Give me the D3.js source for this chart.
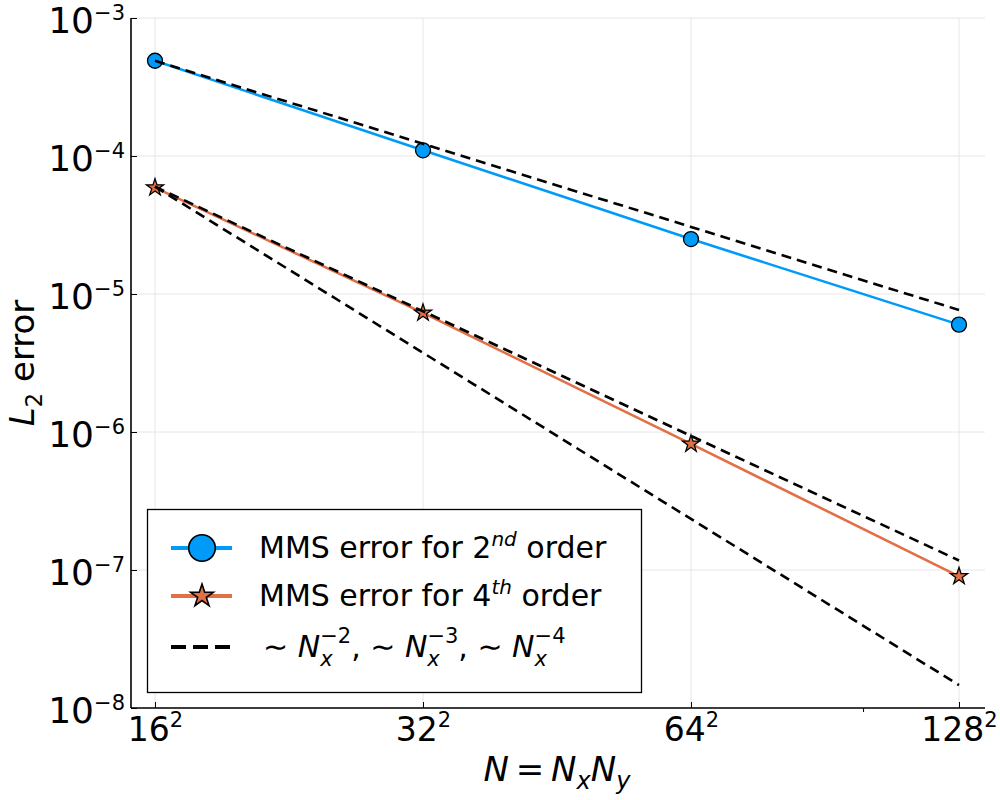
<!DOCTYPE html>
<html><head><meta charset="utf-8">
<script src="https://cdn.jsdelivr.net/npm/d3@7"></script>
<style>
body{margin:0;background:#fff}
text{font-family:"DejaVu Sans",sans-serif;fill:#000}
</style>
</head><body>
<svg id="c" width="1000" height="800"></svg>
<script>
// ---- data ----
const nxLabels = ["16","32","64","128"];
const nValues = [256, 1024, 4096, 16384];           // N = Nx*Ny
const err2nd = [4.9e-4, 1.1e-4, 2.5e-5, 6.0e-6];
const err4th = [5.9e-5, 7.3e-6, 8.2e-7, 9.0e-8];
const ref2 = [4.9e-4, 1.225e-4, 3.0625e-5, 7.65625e-6];
const ref3 = [6.0e-5, 7.5e-6, 9.375e-7, 1.171875e-7];
const ref4 = [6.0e-5, 3.75e-6, 2.34375e-7, 1.46484375e-8];
const yTicks = [1e-8, 1e-7, 1e-6, 1e-5, 1e-4, 1e-3];
const yTickExps = ["−8", "−7", "−6", "−5", "−4", "−3"];
const refExps = ["−2", "−3", "−4"];
const minorXTicks = [10000];

const blue = "#009AF9", orange = "#E26F46";
const plotL = 131, plotR = 985, plotT = 18, plotB = 708;

const svg = d3.select("#c");
const x = d3.scaleLog().domain([256, 16384]).range([155, 959]);
const y = d3.scaleLog().domain([1e-8, 1e-3]).range([708, 18]);

// grid
const grid = svg.append("g").attr("stroke", "#e6e6e6").attr("stroke-width", 1);
grid.selectAll("line.gx").data(nValues).join("line").attr("class","gx")
  .attr("x1", d => x(d)).attr("x2", d => x(d)).attr("y1", plotT).attr("y2", plotB);
grid.selectAll("line.gy").data(yTicks).join("line").attr("class","gy")
  .attr("x1", plotL).attr("x2", plotR).attr("y1", d => y(d)).attr("y2", d => y(d));

// x axis
const gx = svg.append("g").attr("transform", `translate(0,${plotB})`)
  .call(d3.axisBottom(x).tickValues(nValues).tickSizeInner(-6).tickSizeOuter(0).tickFormat((d,i)=>nxLabels[i]));
gx.attr("font-family", null).attr("font-size", null);
gx.select(".domain").remove();
gx.selectAll(".tick line").attr("stroke", "#000").attr("stroke-width", 1);
gx.selectAll(".tick text").attr("y", 33).attr("dy", 0).attr("font-size", 33)
  .attr("text-anchor", "middle")
  .each(function(d, i) {
    const t = d3.select(this); t.text(null);
    t.append("tspan").text(nxLabels[i]);
    t.append("tspan").attr("font-size", 21).attr("dy", -14).text("2");
  });
svg.append("g").selectAll("line").data(minorXTicks).join("line")
  .attr("x1", d => x(d)).attr("x2", d => x(d)).attr("y1", plotB).attr("y2", plotB + 4)
  .attr("stroke", "#000").attr("stroke-width", 1);

// y axis
const gy = svg.append("g").attr("transform", `translate(${plotL},0)`)
  .call(d3.axisLeft(y).tickValues(yTicks).tickSizeInner(-6).tickSizeOuter(0).tickFormat(() => "10"));
gy.attr("font-family", null).attr("font-size", null);
gy.select(".domain").remove();
gy.selectAll(".tick line").attr("stroke", "#000").attr("stroke-width", 1);
gy.selectAll(".tick text").attr("x", -6).attr("y", 14).attr("dy", 0).attr("font-size", 36)
  .attr("text-anchor", "end")
  .each(function(d, i) {
    const t = d3.select(this); t.text(null);
    t.append("tspan").text("10");
    t.append("tspan").attr("font-size", 21).attr("dy", -13).text(yTickExps[i]);
  });

// axis lines
svg.append("line").attr("x1", plotL).attr("x2", plotR).attr("y1", plotB).attr("y2", plotB)
  .attr("stroke", "#000").attr("stroke-width", 1.6);
svg.append("line").attr("x1", plotL).attr("x2", plotL).attr("y1", plotT).attr("y2", plotB)
  .attr("stroke", "#000").attr("stroke-width", 1.6);

// series
const line = d3.line().x((d, i) => x(nValues[i])).y(d => y(d));
const star = (r) => d3.symbol(d3.symbolStar, r * r / 0.8908130915292852)();

svg.append("path").datum(err2nd).attr("d", line).attr("fill", "none")
  .attr("stroke", blue).attr("stroke-width", 2.6);
svg.append("g").selectAll("circle").data(err2nd).join("circle")
  .attr("cx", (d, i) => x(nValues[i])).attr("cy", d => y(d)).attr("r", 7.5)
  .attr("fill", blue).attr("stroke", "#000").attr("stroke-width", 1.3);

svg.append("path").datum(err4th).attr("d", line).attr("fill", "none")
  .attr("stroke", orange).attr("stroke-width", 2.6);
svg.append("g").selectAll("path").data(err4th).join("path")
  .attr("transform", (d, i) => `translate(${x(nValues[i])},${y(d)})`)
  .attr("d", star(9)).attr("fill", orange).attr("stroke", "#000").attr("stroke-width", 1.3);

[ref2, ref3, ref4].forEach(r => {
  svg.append("path").datum(r).attr("d", line).attr("fill", "none")
    .attr("stroke", "#000").attr("stroke-width", 2.6).attr("stroke-dasharray", "10,6");
});

// legend
const lg = svg.append("g");
lg.append("rect").attr("x", 147.5).attr("y", 509.5).attr("width", 494).attr("height", 183)
  .attr("fill", "#fff").attr("stroke", "#000").attr("stroke-width", 1.3);
const rows = [548, 596, 647];
lg.append("line").attr("x1", 171).attr("x2", 232).attr("y1", rows[0]).attr("y2", rows[0])
  .attr("stroke", blue).attr("stroke-width", 4);
lg.append("circle").attr("cx", 202).attr("cy", rows[0]).attr("r", 13.3)
  .attr("fill", blue).attr("stroke", "#000").attr("stroke-width", 1.6);
lg.append("line").attr("x1", 171).attr("x2", 232).attr("y1", rows[1]).attr("y2", rows[1])
  .attr("stroke", orange).attr("stroke-width", 4);
lg.append("path").attr("transform", `translate(202,${rows[1]})`).attr("d", star(12))
  .attr("fill", orange).attr("stroke", "#000").attr("stroke-width", 1.6);
lg.append("line").attr("x1", 171).attr("x2", 232).attr("y1", rows[2]).attr("y2", rows[2])
  .attr("stroke", "#000").attr("stroke-width", 4).attr("stroke-dasharray", "15,7");

const fs = 30;
const t1 = lg.append("text").attr("x", 259).attr("y", 558).attr("font-size", fs);
t1.append("tspan").text("MMS error for 2");
t1.append("tspan").attr("font-size", 20).attr("font-style", "italic").attr("dy", -12).text("nd");
t1.append("tspan").attr("dy", 12).text(" order");
const t2 = lg.append("text").attr("x", 259).attr("y", 606).attr("font-size", fs);
t2.append("tspan").text("MMS error for 4");
t2.append("tspan").attr("font-size", 20).attr("font-style", "italic").attr("dy", -12).text("th");
t2.append("tspan").attr("dy", 12).text(" order");
const t3 = lg.append("text").attr("x", 263).attr("y", 657).attr("font-size", fs);
refExps.forEach((e, k) => {
  t3.append("tspan").attr("dy", k ? 14 : 0).text((k ? ", " : "") + "∼ ");
  t3.append("tspan").attr("font-style", "italic").text("N");
  t3.append("tspan").attr("font-style", "italic").attr("font-size", 21).attr("dy", 9).text("x");
  t3.append("tspan").attr("font-size", 21).attr("dx", -12.4).attr("dy", -23).text(e);
});

// axis titles
const xl = svg.append("text").attr("x", 557).attr("y", 781).attr("font-size", 34).attr("text-anchor", "middle");
xl.append("tspan").attr("font-style", "italic").text("N");
xl.append("tspan").text("\u2009=\u2009");
xl.append("tspan").attr("font-style", "italic").text("N");
xl.append("tspan").attr("font-style", "italic").attr("font-size", 24).attr("dy", 8).text("x");
xl.append("tspan").attr("font-style", "italic").attr("dy", -8).text("N");
xl.append("tspan").attr("font-style", "italic").attr("font-size", 24).attr("dy", 8).text("y");

const yl = svg.append("text").attr("transform", "translate(34,363) rotate(-90)")
  .attr("font-size", 34).attr("text-anchor", "middle");
yl.append("tspan").attr("font-style", "italic").text("L");
yl.append("tspan").attr("font-size", 23).attr("dy", 8).text("2");
yl.append("tspan").attr("dy", -8).text(" error");
</script>
</body></html>
